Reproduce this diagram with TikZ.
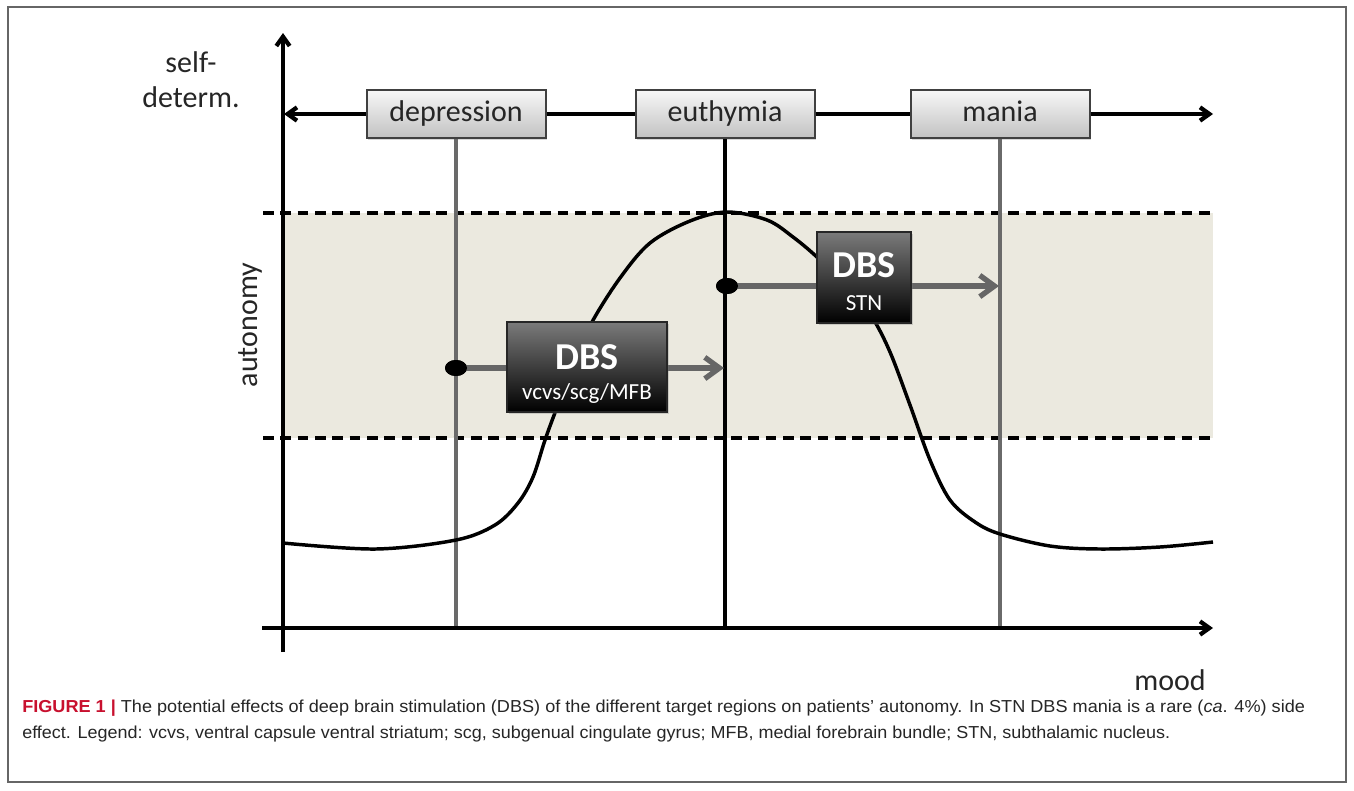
\documentclass[tikz,border=0pt]{standalone}
\usepackage{fontspec}
\setmainfont{Carlito}
\newfontfamily\capfont{Liberation Sans}
\usepackage{graphicx}
\usetikzlibrary{arrows.meta,shapes.geometric,shadows}
\definecolor{bandfill}{HTML}{EBE9DF}
\definecolor{txt}{HTML}{262626}
\definecolor{grayline}{HTML}{6A6A6A}
\definecolor{dbsarrow}{HTML}{666666}
\definecolor{figred}{HTML}{C8102E}
\begin{document}
\begin{tikzpicture}[x=0.75pt,y=-0.75pt,
  axisline/.style={line width=3.2pt,black},
  barb/.style={-{Straight Barb[length=7pt,width=10pt]}},
  moodbox/.style={draw=black!75,line width=1.5pt,top color=black!3,bottom color=black!24,
    minimum width=134.25pt,minimum height=36pt,inner sep=0pt,text=txt,
    text height=16pt,text depth=5pt,
    font=\fontsize{22.5}{24}\selectfont,
    drop shadow={opacity=0.3,shadow xshift=1.2pt,shadow yshift=-1.2pt}},
  dbsbox/.style={draw=black!85,line width=1pt,top color=black!52,bottom color=black,inner sep=0pt,
    drop shadow={opacity=0.3,shadow xshift=1.2pt,shadow yshift=-1.2pt}},
  dbstitle/.style={text=white,font=\fontsize{28.5}{30}\selectfont\bfseries,inner sep=0pt},
  dbssub/.style={text=white,font=\fontsize{17.25}{19}\selectfont,inner sep=0pt},
  vline/.style={line width=2.4pt,grayline},
  dashline/.style={line width=3pt,black,dash pattern=on 8pt off 5pt},
  curveline/.style={line width=2.6pt,black},
  dbsarr/.style={line width=4pt,dbsarrow,-{Straight Barb[length=11pt,width=16pt]}},
  dotnode/.style={ellipse,fill=black,minimum width=16.5pt,minimum height=12pt,inner sep=0pt},
  lab/.style={text=txt,font=\fontsize{22.5}{26.25}\selectfont,inner sep=0pt},
  captext/.style={anchor=base west,inner sep=0pt,text=black!85,font=\capfont\fontsize{13}{15}\selectfont}
]
\useasboundingbox (0,0) rectangle (1354,790);
\fill[white] (0,0) rectangle (1354,790);
% frame
\draw[line width=0.8pt,black!60] (8,7) rectangle (1346,782);

% band
\fill[bandfill] (283,213) rectangle (1213,438);
\coordinate (dl1) at (263,213); \coordinate (dr1) at (1213,213);
\coordinate (dl2) at (263,438); \coordinate (dr2) at (1213,438);
\draw[dashline] (dl1) -- (dr1);
\draw[dashline] (dl2) -- (dr2);

% axes coordinates
\coordinate (ybot) at (283,652);
\coordinate (ytop) at (283,33);
\coordinate (xleft) at (262,628);
\coordinate (xright) at (1213,628);
\coordinate (tleft) at (284,114);
\coordinate (tright) at (1213,114);

% mood boxes
\node[moodbox] (dep) at (456,114) {depression};
\node[moodbox] (eut) at (725,114) {euthymia};
\node[moodbox] (man) at (1000,114) {mania};

% vertical lines
\coordinate (depb) at (456,628);
\coordinate (eutb) at (725,628);
\coordinate (manb) at (1000,628);
\draw[vline] (dep.south) -- (depb);
\draw[line width=2.6pt,black] (eut.south) -- (eutb);
\draw[vline] (man.south) -- (manb);

% curve
\draw[curveline] plot[smooth,tension=0.55] coordinates {(283,543) (376,549) (456,540) (495,525) (518,503) (533,477) (545,440) (556,410) (575,360) (592,322) (620,278) (650,243) (690,221) (727,212) (767,220) (793,237) (818,258) (850,290) (872,317) (890,352) (910,405) (930,460) (950,500) (975,522) (1000,534) (1050,546) (1100,549) (1160,547) (1213,542)};

% axes
\draw[axisline,barb] (ybot) -- (ytop);
\draw[axisline,barb] (xleft) -- (xright);
\draw[axisline,barb] (dep.west) -- (tleft);
\draw[axisline] (dep.east) -- (eut.west);
\draw[axisline] (eut.east) -- (man.west);
\draw[axisline,barb] (man.east) -- (tright);

% DBS arrows
\node[dotnode] (dot1) at (456,368) {};
\node[dotnode] (dot2) at (727,286) {};
\coordinate (end1) at (724,368);
\coordinate (end2) at (999,286);
\draw[dbsarr] (dot1.center) -- (end1);
\draw[dbsarr] (dot2.center) -- (end2);
\node[dotnode] at (dot1.center) {};
\node[dotnode] at (dot2.center) {};

% DBS boxes
\node[dbsbox,minimum width=120pt,minimum height=67.5pt] (dbs1) at (587,367) {};
\node[dbstitle] (dbs1t) at (587,357) {DBS};
\node[dbssub] (dbs1s) at (587,393) {vcvs/scg/MFB};
\node[dbsbox,minimum width=70.5pt,minimum height=68.25pt] (dbs2) at (864,277.5) {};
\node[dbstitle] (dbs2t) at (864,265) {DBS};
\node[dbssub] (dbs2s) at (864,303) {STN};

% labels
\node[lab,align=center] (selfdet) at (191,80) {self-\\determ.};
\node[lab,rotate=90] (auto) at (250,325) {autonomy};
\node[lab] (mood) at (1170,680) {mood};

% caption
\node[captext] (cap1) at (22,712) {\resizebox{962pt}{\height}{\textcolor{figred}{\textbf{FIGURE 1 |}} The potential effects of deep brain stimulation (DBS) of the different target regions on patients’ autonomy. In STN DBS mania is a rare (\textit{ca}. 4\%) side}};
\node[captext] (cap2) at (22,738) {\resizebox{861pt}{\height}{effect. Legend: vcvs, ventral capsule ventral striatum; scg, subgenual cingulate gyrus; MFB, medial forebrain bundle; STN, subthalamic nucleus.}};
\end{tikzpicture}
\end{document}
